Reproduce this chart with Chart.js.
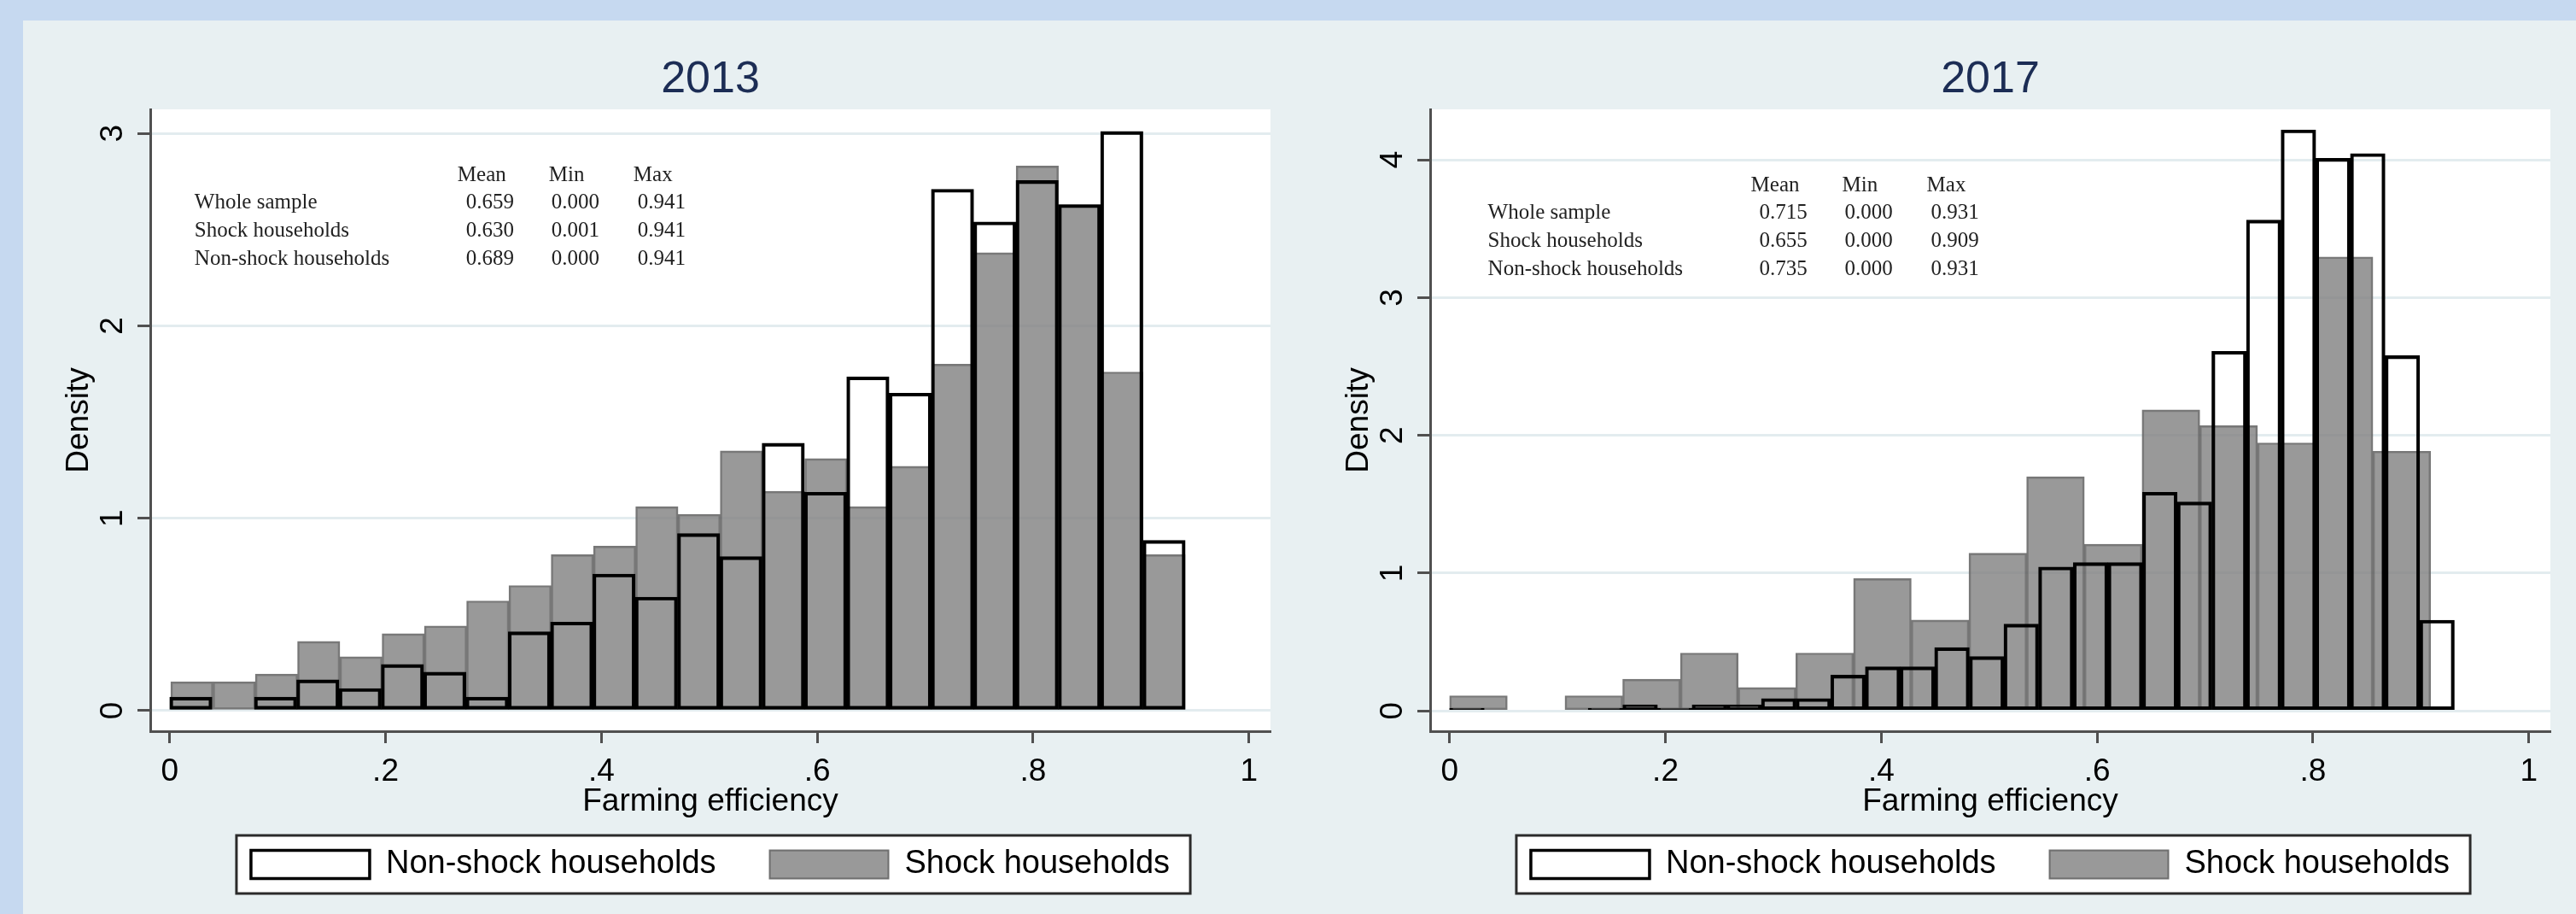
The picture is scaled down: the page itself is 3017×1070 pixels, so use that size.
<!DOCTYPE html>
<html>
<head>
<meta charset="utf-8">
<title>Farming efficiency by shock status, 2013 and 2017</title>
<script src="https://cdn.jsdelivr.net/npm/chart.js@4.4.1/dist/chart.umd.min.js"></script>
<style>
  html, body { margin: 0; padding: 0; }
  body { width: 3017px; height: 1070px; background: #c6d9f0; position: relative; overflow: hidden; }
  .panel { position: absolute; left: 27px; top: 24px; right: 0; bottom: 0; background: #e8f0f2; }
  canvas { position: absolute; top: 24px; }
  #chart2013 { left: 27px; }
  #chart2017 { left: 1526px; }
</style>
</head>
<body>
<div class="panel"></div>
<canvas id="chart2013" width="1491" height="1046"></canvas>
<canvas id="chart2017" width="1491" height="1046"></canvas>
<script>
// Histogram densities, one value per bin (left to right)
const nonShock2013 = [0.07, 0, 0.07, 0.16, 0.115, 0.24, 0.20, 0.07, 0.41, 0.46, 0.71, 0.59,
                      0.92, 0.80, 1.39, 1.135, 1.735, 1.65, 2.71, 2.54, 2.755, 2.63, 3.01, 0.885];
const shock2013 = [0.15, 0.15, 0.19, 0.36, 0.28, 0.40, 0.44, 0.57, 0.65, 0.81, 0.855, 1.06,
                   1.02, 1.35, 1.14, 1.31, 1.06, 1.27, 1.80, 2.38, 2.83, 2.63, 1.76, 0.81];
const nonShock2017 = [0.02, 0, 0, 0, 0.02, 0.045, 0.02, 0.045, 0.045, 0.09, 0.09, 0.26, 0.32, 0.32,
                      0.46, 0.395, 0.63, 1.045, 1.077, 1.077, 1.587, 1.517, 2.61, 3.562, 4.217,
                      4.01, 4.045, 2.578, 0.659];
const shock2017 = [0.11, 0, 0.11, 0.23, 0.42, 0.17, 0.42, 0.96, 0.66, 1.145, 1.70, 1.21, 2.185,
                   2.07, 1.945, 3.295, 1.885];

// lower / upper edge of each histogram (equal-width bins)
const nonShockRange2013 = [0.000, 0.941];
const shockRange2013 = [0.001, 0.941];
const nonShockRange2017 = [0.000, 0.931];
const shockRange2017 = [0.000, 0.909];

const xTickValues = [0, 0.2, 0.4, 0.6, 0.8, 1];
const xTickLabels = ['0', '.2', '.4', '.6', '.8', '1'];
const yTicks2013 = [0, 1, 2, 3];
const yTicks2017 = [0, 1, 2, 3, 4];

const seriesNames = ['Non-shock households', 'Shock households'];

// summary table printed inside each panel
const statHeader = ['Mean', 'Min', 'Max'];
const statRows = ['Whole sample', 'Shock households', 'Non-shock households'];
const stats2013 = [['0.659', '0.000', '0.941'], ['0.630', '0.001', '0.941'], ['0.689', '0.000', '0.941']];
const stats2017 = [['0.715', '0.000', '0.931'], ['0.655', '0.000', '0.909'], ['0.735', '0.000', '0.931']];

Chart.defaults.font.family = "'Liberation Sans', Arial, sans-serif";
Chart.defaults.color = '#000';

function binPoints(values, range) {
  const width = (range[1] - range[0]) / values.length;
  // empty bins are not drawn
  return values.map((v, i) => ({ x: range[0] + (i + 0.5) * width, y: v === 0 ? null : v }));
}

// white plot region + framed legend, like Stata's s2color scheme
const plotFrame = {
  id: 'plotFrame',
  beforeDraw(chart) {
    const { ctx, chartArea: a } = chart;
    ctx.save();
    ctx.fillStyle = '#ffffff';
    ctx.fillRect(a.left, a.top, a.right - a.left, a.bottom - a.top);

    const boxes = chart.legend && chart.legend.legendHitBoxes;
    if (boxes && boxes.length) {
      const first = boxes[0];
      const last = boxes[boxes.length - 1];
      const left = first.left - 17;
      const right = last.left + last.width + 24;
      const top = first.top - 15;
      const bottom = first.top + 53;
      ctx.fillRect(left, top, right - left, bottom - top);
      ctx.lineWidth = 3;
      ctx.strokeStyle = '#2b2b2b';
      ctx.strokeRect(left, top, right - left, bottom - top);
    }
    ctx.restore();
  }
};

const statsTable = {
  id: 'statsTable',
  afterDatasetsDraw(chart, args, opts) {
    if (!opts.stats) return;
    const { ctx, scales } = chart;
    const x0 = scales.x.getPixelForValue(opts.at[0]);
    const y0 = scales.y.getPixelForValue(opts.at[1]);
    const headerX = [308, 415, 514];
    const valueX = [318, 418, 519];
    ctx.save();
    ctx.font = "25px 'Liberation Serif', 'Times New Roman', serif";
    ctx.fillStyle = '#222';
    ctx.textBaseline = 'middle';
    ctx.textAlign = 'left';
    statHeader.forEach((h, j) => ctx.fillText(h, x0 + headerX[j], y0));
    statRows.forEach((name, i) => {
      const y = y0 + 32 + i * 33;
      ctx.fillText(name, x0, y);
      opts.stats[i].forEach((v, j) => ctx.fillText(v, x0 + valueX[j], y));
    });
    ctx.restore();
  }
};

function drawHistogram(cfg) {
  const canvas = document.getElementById(cfg.canvasId);
  if (!canvas) return;

  const axisColor = '#505050';
  const setXTicks = axis => { axis.ticks = xTickValues.map(v => ({ value: v })); };

  return new Chart(canvas.getContext('2d'), {
    type: 'bar',
    data: {
      datasets: [{
        label: seriesNames[0],
        data: binPoints(cfg.nonShock, cfg.nonShockRange),
        xAxisID: 'x2',
        backgroundColor: 'rgba(0, 0, 0, 0)',
        borderColor: '#000000',
        borderWidth: 3.5,
        borderSkipped: false,
        grouped: false,
        barPercentage: 1,
        categoryPercentage: 1
      }, {
        label: seriesNames[1],
        data: binPoints(cfg.shock, cfg.shockRange),
        xAxisID: 'x',
        backgroundColor: 'rgba(128, 128, 128, 0.8)',
        borderColor: 'rgba(95, 95, 95, 0.85)',
        borderWidth: 2,
        borderSkipped: false,
        grouped: false,
        barPercentage: 1,
        categoryPercentage: 1
      }]
    },
    options: {
      responsive: false,
      animation: false,
      events: [],
      layout: { padding: { top: 0, left: 0, right: 30, bottom: 29 } },
      plugins: {
        title: {
          display: true,
          text: cfg.year,
          fullSize: false,
          color: '#1c2d55',
          font: { size: 52, weight: 'normal' },
          padding: { top: 38, bottom: 3.6 }
        },
        legend: {
          position: 'bottom',
          fullSize: false,
          labels: {
            boxWidth: 139,
            boxHeight: 33,
            padding: 63,
            color: '#000',
            font: { size: 38 }
          }
        },
        tooltip: { enabled: false },
        statsTable: { stats: cfg.stats, at: cfg.statsAt }
      },
      scales: {
        x: {
          type: 'linear',
          min: -0.018,
          max: 1.02,
          bounds: 'data',
          offset: false,
          afterBuildTicks: setXTicks,
          afterFit: axis => { axis.height = 74; },
          ticks: {
            autoSkip: false,
            minRotation: 0,
            maxRotation: 0,
            padding: 12,
            font: { size: 37 },
            callback: (value, index) => xTickLabels[index]
          },
          grid: { drawOnChartArea: false, offset: false, tickLength: 14, tickWidth: 3, tickColor: axisColor },
          border: { color: axisColor, width: 3 },
          title: {
            display: true,
            text: 'Farming efficiency',
            font: { size: 37 },
            padding: { top: 0, bottom: -31 }
          }
        },
        x2: {
          type: 'linear',
          display: false,
          min: -0.018,
          max: 1.02,
          bounds: 'data',
          offset: false,
          afterBuildTicks: setXTicks
        },
        y: {
          type: 'linear',
          min: cfg.yMin,
          max: cfg.yMax,
          afterBuildTicks: axis => { axis.ticks = cfg.yTicks.map(v => ({ value: v })); },
          afterFit: axis => { axis.width = 149; },
          ticks: {
            minRotation: 90,
            maxRotation: 90,
            crossAlign: 'center',
            padding: 18,
            font: { size: 37 }
          },
          grid: { color: '#e3ecef', lineWidth: 3, tickLength: 15, tickWidth: 3, tickColor: axisColor },
          border: { color: axisColor, width: 3 },
          title: {
            display: true,
            text: 'Density',
            font: { size: 37 },
            padding: { top: 44, bottom: 0 }
          }
        }
      }
    },
    plugins: [plotFrame, statsTable]
  });
}

drawHistogram({
  canvasId: 'chart2013',
  year: '2013',
  nonShock: nonShock2013,
  nonShockRange: nonShockRange2013,
  shock: shock2013,
  shockRange: shockRange2013,
  yTicks: yTicks2013,
  yMin: -0.107,
  yMax: 3.125,
  stats: stats2013,
  statsAt: [0.023, 2.78]
});

drawHistogram({
  canvasId: 'chart2017',
  year: '2017',
  nonShock: nonShock2017,
  nonShockRange: nonShockRange2017,
  shock: shock2017,
  shockRange: shockRange2017,
  yTicks: yTicks2017,
  yMin: -0.147,
  yMax: 4.366,
  stats: stats2017,
  statsAt: [0.0355, 3.81]
});
</script>
</body>
</html>
